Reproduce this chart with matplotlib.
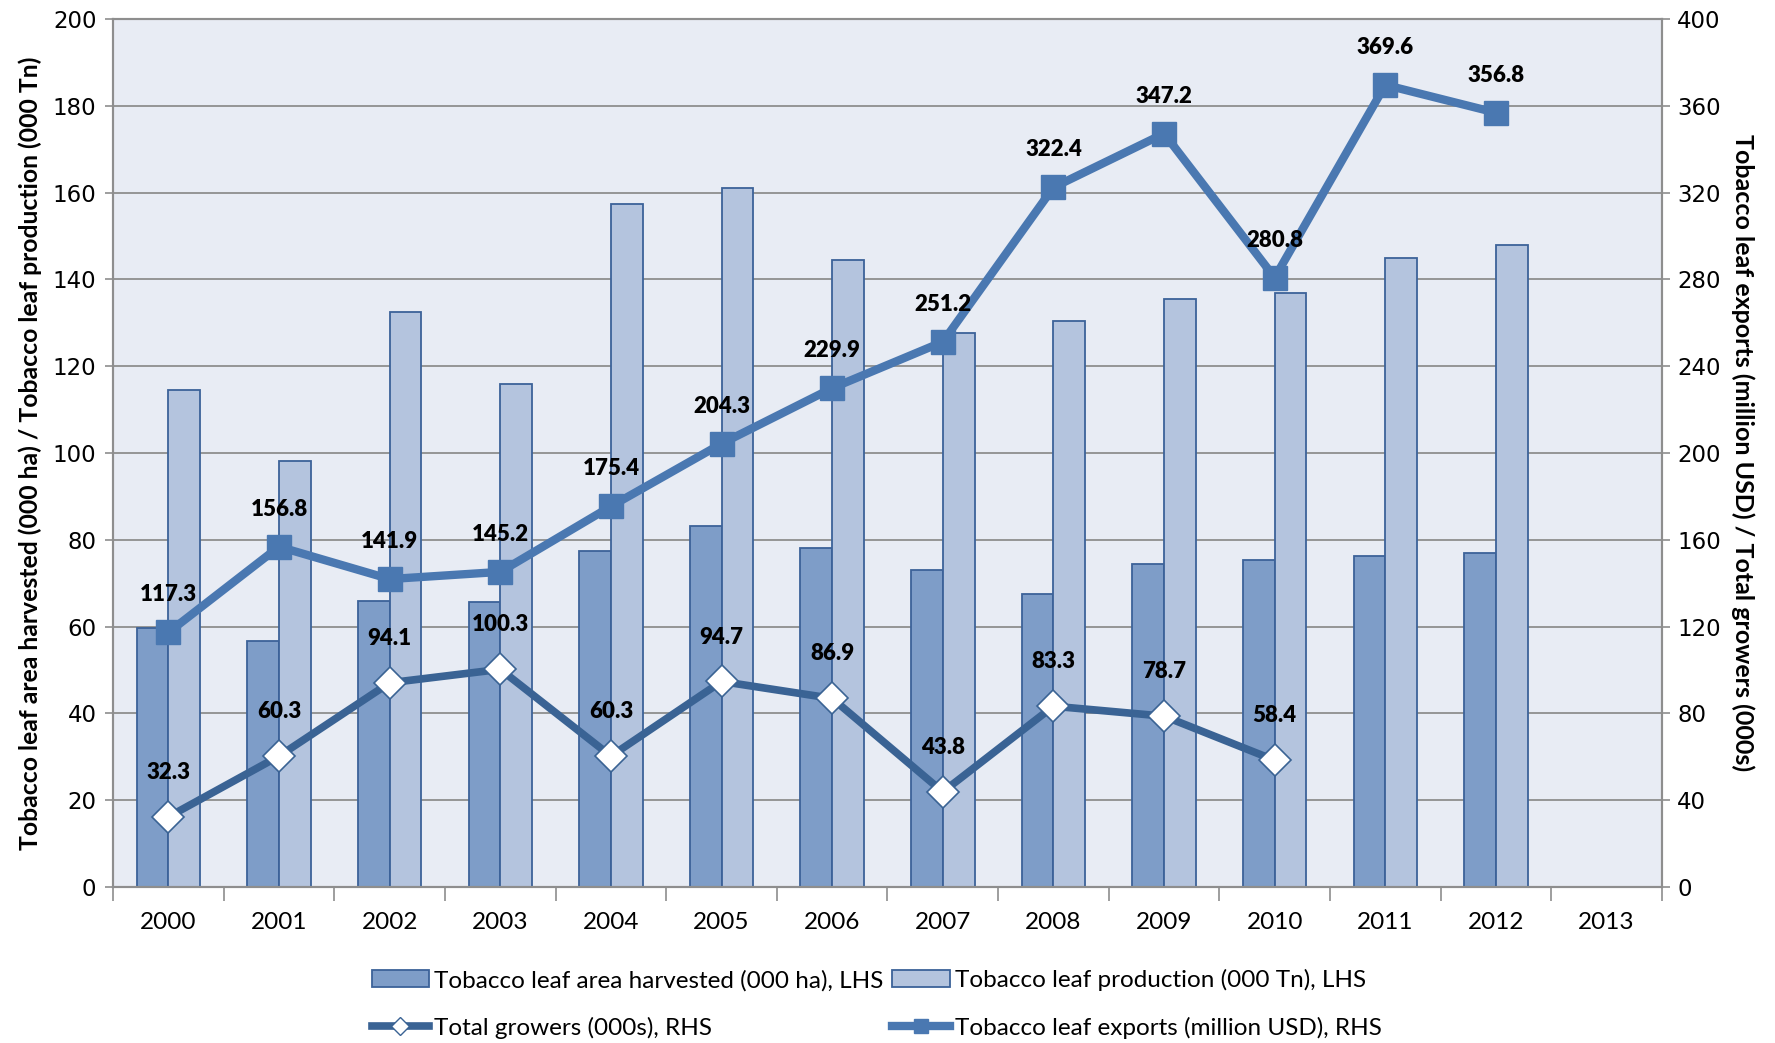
import matplotlib
matplotlib.use("Agg")
import matplotlib.pyplot as plt
from matplotlib.lines import Line2D
from matplotlib.patches import Patch
import numpy as np

plt.rcParams["font.family"] = ["Lato", "DejaVu Sans"]

years = ["2000", "2001", "2002", "2003", "2004", "2005", "2006",
         "2007", "2008", "2009", "2010", "2011", "2012", "2013"]
area_harvested = [59.6, 56.7, 65.9, 65.6, 77.5, 83.2, 78.2,
                  73.1, 67.4, 74.5, 75.3, 76.3, 77.0]
leaf_production = [114.4, 98.2, 132.4, 115.9, 157.4, 161.1, 144.4,
                   127.7, 130.3, 135.5, 136.9, 145.0, 148.0]
leaf_exports = [117.3, 156.8, 141.9, 145.2, 175.4, 204.3, 229.9,
                251.2, 322.4, 347.2, 280.8, 369.6, 356.8]
total_growers = [32.3, 60.3, 94.1, 100.3, 60.3, 94.7, 86.9,
                 43.8, 83.3, 78.7, 58.4]

dark_bar = "#7E9DC8"
light_bar = "#B4C4DE"
bar_edge = "#3C6299"
exports_col = "#4A78B1"
growers_col = "#3A6394"
grid_col = "#8E8E8E"
bg_col = "#E8ECF4"

fig = plt.figure(figsize=(17.75, 10.43), dpi=100)
ax = fig.add_axes([0.0637, 0.1496, 0.8726, 0.8322])
ax2 = ax.twinx()

# <----------- bars (left axis) ----------->
w = 0.287
xb = np.arange(len(area_harvested))
ax.bar(xb - w / 2, area_harvested, width=w, color=dark_bar,
       edgecolor=bar_edge, linewidth=1.3, zorder=2)
ax.bar(xb + w / 2, leaf_production, width=w, color=light_bar,
       edgecolor=bar_edge, linewidth=1.3, zorder=2)

ax.set_facecolor(bg_col)
ax.set_axisbelow(True)
ax.set_xlim(-0.5, len(years) - 0.5)
ax.set_ylim(0, 200)
ax.set_yticks(np.arange(0, 201, 20))
ax.grid(axis="y", color=grid_col, linewidth=1.3)
ax.tick_params(axis="y", direction="out", length=6, width=1.2,
               color=grid_col, labelsize=16.5, pad=6)
for lab in ax.get_yticklabels():
    lab.set_fontfamily("DejaVu Sans")

# x ticks between categories, labels at the centres
ax.set_xticks(np.arange(-0.5, len(years), 1))
ax.set_xticklabels([])
ax.set_xticks(np.arange(len(years)), minor=True)
ax.set_xticklabels(years, minor=True, fontsize=17.5)
ax.tick_params(axis="x", which="major", direction="out", length=10,
               width=1.2, color=grid_col)
ax.tick_params(axis="x", which="minor", length=0, pad=18)

for side in ["left", "right", "top", "bottom"]:
    ax.spines[side].set_color(grid_col)
    ax.spines[side].set_linewidth(1.5)
    ax2.spines[side].set_color(grid_col)
    ax2.spines[side].set_linewidth(1.5)

ax.set_ylabel("Tobacco leaf area harvested (000 ha) / Tobacco leaf production (000 Tn)",
              fontsize=17.8, fontweight="bold", labelpad=8)

# <----------- lines (right axis) ----------->
xg = np.arange(len(total_growers))
xe = np.arange(len(leaf_exports))
ax2.plot(xg, total_growers, color=growers_col, linewidth=5.5,
         marker="D", markersize=16, markerfacecolor="white",
         markeredgecolor=growers_col, markeredgewidth=1.2, zorder=3)
ax2.plot(xe, leaf_exports, color=exports_col, linewidth=6,
         marker="s", markersize=17, markerfacecolor=exports_col,
         markeredgecolor=exports_col, zorder=4)

for x, v in zip(xg, total_growers):
    ax2.annotate(f"{v:.1f}", (x, v), xytext=(0, 32), textcoords="offset points",
                 ha="center", va="center", fontsize=16, fontweight="heavy",
                 color="black", zorder=5)
for x, v in zip(xe, leaf_exports):
    ax2.annotate(f"{v:.1f}", (x, v), xytext=(0, 27), textcoords="offset points",
                 ha="center", va="center", fontsize=16, fontweight="heavy",
                 color="black", zorder=5)

ax2.set_ylim(0, 400)
ax2.set_yticks(np.arange(0, 401, 40))
ax2.tick_params(axis="y", direction="out", length=6, width=1.2,
                color=grid_col, labelsize=16.5, pad=5)
for lab in ax2.get_yticklabels():
    lab.set_fontfamily("DejaVu Sans")
ax2.set_ylabel("Tobacco leaf exports (million USD) / Total growers (000s)",
               fontsize=18, fontweight="bold", rotation=-90, labelpad=24)

# <----------- legend ----------->
handles = [
    Patch(facecolor=dark_bar, edgecolor=bar_edge, linewidth=1.3),
    Line2D([], [], color=growers_col, linewidth=5.5, marker="D", markersize=9,
           markerfacecolor="white", markeredgecolor=growers_col),
    Patch(facecolor=light_bar, edgecolor=bar_edge, linewidth=1.3),
    Line2D([], [], color=exports_col, linewidth=6, marker="s", markersize=10,
           markerfacecolor=exports_col, markeredgecolor=exports_col),
]
labels = [
    "Tobacco leaf area harvested (000 ha), LHS",
    "Total growers (000s), RHS",
    "Tobacco leaf production (000 Tn), LHS",
    "Tobacco leaf exports (million USD), RHS",
]
fig.legend(handles, labels, loc="center", bbox_to_anchor=(0.494, 0.0375),
           ncol=2, frameon=False, fontsize=17.5, handlelength=2.35,
           handleheight=0.7, handletextpad=0.23, columnspacing=0.36,
           labelspacing=1.05, borderpad=0, borderaxespad=0)

plt.savefig("out.png", dpi=100)
